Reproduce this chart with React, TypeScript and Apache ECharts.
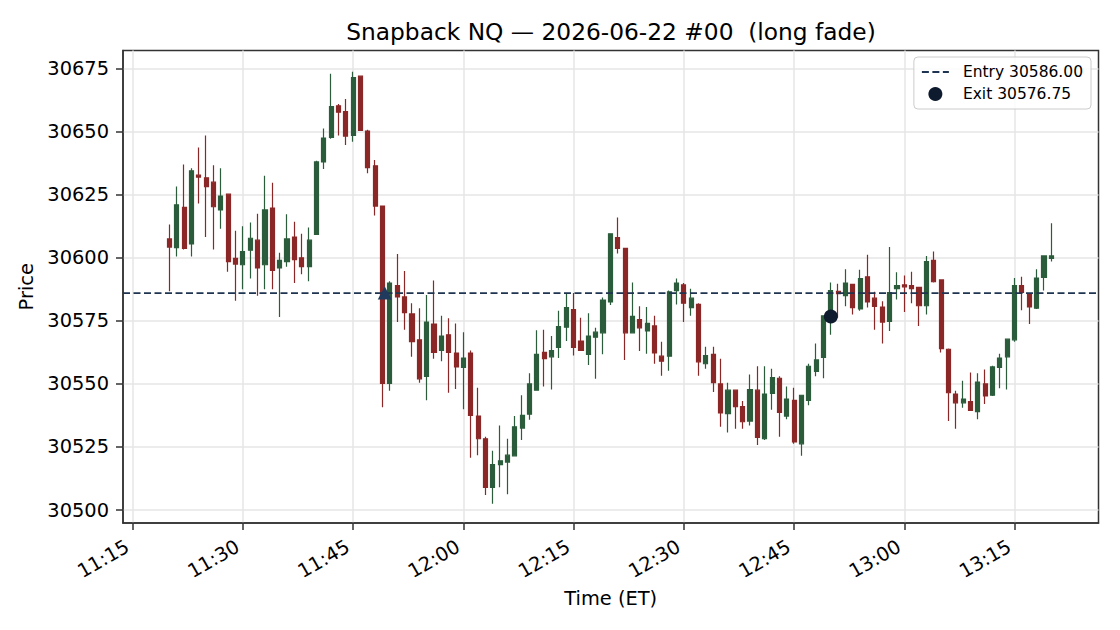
import React, { useEffect, useRef } from "react";
import * as echarts from "echarts";

// minute index from 11:20 ET
const startMinutes = 11 * 60 + 20;
const openP = [
  30607.5, 30604, 30620, 30605.5, 30632.75, 30631.75, 30630, 30619, 30625.25, 30599.75,
  30597.25, 30603, 30607, 30597.25, 30619.75, 30596, 30598.5, 30608.25, 30600, 30596.5,
  30609.25, 30638, 30647.75, 30660.25, 30658, 30648.5, 30672, 30650.25, 30636.5, 30620.5,
  30550.25, 30589, 30584.5, 30577.75, 30567.5, 30553, 30573.75, 30563.25, 30569.5, 30562.25,
  30556.5, 30562.25, 30537.25, 30528.25, 30509, 30518, 30519, 30521.5, 30532.5, 30538,
  30547.5, 30562.5, 30560.75, 30564.5, 30572.5, 30579.5, 30567, 30561.75, 30568.5, 30570.25,
  30582.5, 30608, 30603.75, 30570.25, 30575.5, 30571, 30573, 30561, 30561, 30587,
  30589.25, 30580.25, 30581.5, 30558, 30561.75, 30550, 30538.25, 30547.5, 30541, 30535.25,
  30547.5, 30528.25, 30546.25, 30552.25, 30537.25, 30543.5, 30526.25, 30543.5, 30555, 30560.5,
  30577, 30586.75, 30585, 30589.5, 30579.75, 30592.5, 30584, 30580.5, 30574.75, 30587.75,
  30589.25, 30589, 30588.25, 30581, 30599, 30591.25, 30563.75, 30546, 30542.5, 30543,
  30539, 30550, 30545.5, 30556.5, 30560.75, 30567.5, 30589, 30585.75, 30580, 30592.25,
  30599.75,
];
const closeP = [
  30604.25, 30621, 30603.75, 30634.5, 30632, 30628.25, 30620.25, 30624.5, 30598.5, 30597.5,
  30602.5, 30607.75, 30596, 30619, 30595, 30599, 30607.5, 30599.25, 30596.5, 30607,
  30638, 30647.5, 30660, 30657.75, 30648.25, 30671.5, 30650.5, 30635.75, 30620.5, 30550.25,
  30590, 30584.5, 30578.25, 30566.75, 30552, 30574.5, 30562.5, 30569, 30562.5, 30556.75,
  30560.25, 30537.5, 30528.25, 30509, 30518, 30519.5, 30521.75, 30533, 30537.5, 30550,
  30561.75, 30560, 30563.25, 30572.75, 30580.25, 30564.5, 30563.25, 30569, 30570.5, 30583.25,
  30609.5, 30603.75, 30570.25, 30576.75, 30572.25, 30574, 30562.25, 30559, 30586.5, 30590,
  30582, 30584, 30558.75, 30561.25, 30550.5, 30538.5, 30547.5, 30541, 30535, 30547.75,
  30528.75, 30546, 30552.5, 30538.75, 30544, 30527, 30545.5, 30557, 30559.5, 30577,
  30587, 30585.75, 30590, 30580.25, 30591.75, 30582.5, 30580.75, 30574.5, 30586.25, 30589,
  30588.5, 30587.75, 30581, 30598.5, 30590.5, 30564, 30546.5, 30542.5, 30544, 30539.5,
  30550.75, 30545.25, 30556.75, 30560.25, 30567.75, 30589, 30586.25, 30580.5, 30592, 30600.75,
  30600.75,
];
const lowP = [
  30586.75, 30600.5, 30603.25, 30600.5, 30621.5, 30608.25, 30603.25, 30611.5, 30594.5, 30583,
  30587.5, 30591.75, 30585, 30587.5, 30587.5, 30576.5, 30596.5, 30590, 30593.5, 30590.75,
  30609, 30635.25, 30647.25, 30648.5, 30644.75, 30646, 30650.25, 30633.5, 30616.75, 30540.75,
  30547.25, 30574.5, 30571.5, 30560.75, 30550.5, 30543.5, 30560, 30559, 30546.5, 30548,
  30540, 30520.75, 30521.75, 30506, 30502.5, 30509, 30506.25, 30521.25, 30527.75, 30535.75,
  30547.25, 30549, 30547.75, 30560.25, 30567, 30561.25, 30563, 30557.5, 30552, 30561.75,
  30581.25, 30601.75, 30559.5, 30570, 30563, 30562, 30558, 30553.25, 30555.25, 30581.5,
  30574.5, 30577, 30553.25, 30556, 30546.75, 30533, 30530.75, 30532.25, 30532.25, 30533.5,
  30525.75, 30527.75, 30539.75, 30529, 30536, 30526.25, 30521.5, 30541.5, 30553, 30552.25,
  30569.5, 30576.25, 30580.75, 30577.5, 30579, 30580.25, 30571.5, 30566, 30571, 30583.5,
  30578.5, 30582, 30573, 30577.5, 30590.25, 30562.5, 30535.25, 30532.25, 30540.5, 30539.25,
  30536, 30542, 30545.25, 30548.25, 30547.75, 30566.75, 30579.25, 30573.75, 30579.75, 30587,
  30598.5,
];
const highP = [
  30613.25, 30628.25, 30637, 30635.5, 30643.75, 30648.5, 30636.75, 30635.5, 30625.5, 30610.75,
  30612.5, 30614, 30617.5, 30632.5, 30629.75, 30602, 30617.25, 30614.25, 30609.5, 30612,
  30638.5, 30651.25, 30673, 30661, 30663, 30673.75, 30672.25, 30650.75, 30638.75, 30620.75,
  30590.75, 30601.5, 30594.75, 30582, 30580, 30585.25, 30591, 30577, 30576, 30574,
  30570.5, 30563.25, 30548.5, 30529, 30523.5, 30533.5, 30528.25, 30537.25, 30545.5, 30554.25,
  30571.25, 30571.5, 30569, 30579, 30586, 30586, 30576.25, 30578, 30572.25, 30584.25,
  30609.75, 30616, 30603.75, 30590.25, 30580.75, 30580.5, 30577, 30566.75, 30587, 30591.75,
  30590, 30587.75, 30582, 30564.75, 30564.75, 30560, 30550.5, 30547.75, 30543.25, 30553.75,
  30557, 30557, 30556, 30553, 30549, 30548.5, 30545.75, 30558, 30566, 30577.25,
  30590.25, 30589.75, 30595.5, 30589.75, 30595.25, 30601.25, 30586.5, 30582.75, 30604.25, 30594.25,
  30593, 30594.5, 30588.5, 30600.75, 30602.5, 30591.5, 30564, 30547.25, 30551.25, 30554.5,
  30554.25, 30555.75, 30557.25, 30562, 30568, 30592, 30592.5, 30586, 30595.5, 30601,
  30613.75,
];

const entryPrice = 30586.0;
const entryIndex = 29.3;
const exitPrice = 30576.75;
const exitIndex = 90;
const xTickMinutes = [-5, 10, 25, 40, 55, 70, 85, 100, 115];
const yTickValues = [30500, 30525, 30550, 30575, 30600, 30625, 30650, 30675];

const titleText = "Snapback NQ \u2014 2026-06-22 #00  (long fade)";
const entryName = "Entry 30586.00";
const exitName = "Exit 30576.75";
const FONT = "DejaVu Sans";
const GREEN = "#2b5c3b";
const RED = "#8b2727";

function fmtTime(v: number): string {
  const t = Math.round(startMinutes + v);
  const h = Math.floor(t / 60);
  const m = t % 60;
  return `${h}:${m < 10 ? "0" + m : m}`;
}

export default function App() {
  const ref = useRef<HTMLDivElement>(null);
  useEffect(() => {
    if (!ref.current) return;
    const chart = echarts.init(ref.current, undefined, { renderer: "svg" });
    const candles = openP.map((o, i) => [i, o, closeP[i], lowP[i], highP[i]]);
    const xMin = -6.32;
    const xMax = 126.42;
    chart.setOption({
      animation: false,
      backgroundColor: "#ffffff",
      textStyle: { fontFamily: FONT },
      grid: {
        left: 123,
        top: 50.5,
        width: 975.5,
        height: 472.5,
        show: true,
        borderColor: "#333333",
        borderWidth: 1.5,
        backgroundColor: "transparent",
      },
      graphic: [
        {
          type: "text",
          x: 611,
          y: 31,
          style: {
            text: titleText,
            font: `23.3px "${FONT}"`,
            fill: "#000000",
            textAlign: "center",
            textVerticalAlign: "middle",
          },
        },
      ],
      legend: {
        right: 29,
        top: 57,
        orient: "vertical",
        padding: [7, 8, 7, 7],
        itemGap: 6,
        itemWidth: 27,
        itemHeight: 14,
        borderColor: "#cccccc",
        borderWidth: 1,
        borderRadius: 4,
        backgroundColor: "rgba(255,255,255,0.85)",
        textStyle: { fontFamily: FONT, fontSize: 15.5, color: "#000", padding: [0, 0, 0, 9] },
        data: [
          { name: entryName, itemStyle: { color: "rgba(0,0,0,0)", borderWidth: 0, opacity: 0 } },
          { name: exitName },
        ],
      },
      xAxis: {
        type: "value",
        min: xMin,
        max: xMax,
        name: "Time (ET)",
        nameLocation: "middle",
        nameGap: 66,
        nameTextStyle: { fontFamily: FONT, fontSize: 19.4, color: "#000" },
        axisLine: { show: true, onZero: false, lineStyle: { color: "#333333", width: 1.5 } },
        axisTick: {
          show: true,
          length: 7,
          customValues: xTickMinutes,
          lineStyle: { color: "#333333", width: 1.5 },
        },
        axisLabel: {
          customValues: xTickMinutes,
          rotate: 30,
          margin: 19,
          padding: [0, 6, 0, 0],
          fontFamily: FONT,
          fontSize: 19.4,
          color: "#000",
          formatter: (v: number) => fmtTime(v),
        },
        splitLine: { show: true, lineStyle: { color: "#e6e6e6", width: 1.5 } },
      },
      yAxis: {
        type: "value",
        min: 30494.85,
        max: 30682.2,
        name: "Price",
        nameLocation: "middle",
        nameGap: 84,
        nameTextStyle: { fontFamily: FONT, fontSize: 19.4, color: "#000" },
        axisLine: { show: true, onZero: false, lineStyle: { color: "#333333", width: 1.5 } },
        axisTick: {
          show: true,
          length: 7,
          customValues: yTickValues,
          lineStyle: { color: "#333333", width: 1.5 },
        },
        axisLabel: {
          customValues: yTickValues,
          margin: 14,
          fontFamily: FONT,
          fontSize: 19.4,
          color: "#000",
          formatter: (v: number) => String(v),
        },
        splitLine: { show: true, lineStyle: { color: "#e6e6e6", width: 1.5 } },
      },
      series: [
        {
          type: "candlestick",
          name: "OHLC",
          dimensions: ["t", "open", "close", "lowest", "highest"],
          encode: { x: "t", y: ["open", "close", "lowest", "highest"] },
          data: candles,
          barWidth: 4.6,
          itemStyle: {
            color: GREEN,
            color0: RED,
            borderColor: GREEN,
            borderColor0: RED,
            borderWidth: 1.2,
          },
          z: 2,
        },
        {
          type: "line",
          name: entryName,
          data: [
            [xMin, entryPrice],
            [xMax, entryPrice],
          ],
          symbol: "none",
          lineStyle: { color: "#1e3450", width: 1.6, type: [7, 3.5] },
          itemStyle: { color: "#1e3450" },
          z: 3,
        },
        {
          type: "scatter",
          name: "Entry marker",
          data: [[entryIndex, entryPrice]],
          symbol: "triangle",
          symbolSize: [14, 13],
          itemStyle: { color: "#1f3a5c", opacity: 1 },
          z: 5,
        },
        {
          type: "scatter",
          name: exitName,
          data: [[exitIndex, exitPrice]],
          symbol: "circle",
          symbolSize: 14,
          itemStyle: { color: "#0e1a2e", opacity: 1 },
          z: 5,
        },
      ],
    });
    return () => chart.dispose();
  }, []);
  return (
    <div
      ref={ref}
      style={{ position: "absolute", left: 0, top: 0, width: 1120, height: 630 }}
    />
  );
}
